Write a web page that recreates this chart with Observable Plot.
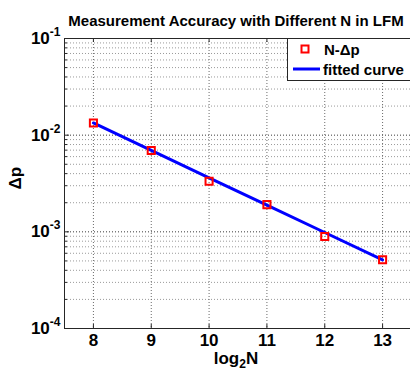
<!DOCTYPE html>
<html><head><meta charset="utf-8">
<script src="https://cdn.jsdelivr.net/npm/d3@7"></script>
<script src="https://cdn.jsdelivr.net/npm/@observablehq/plot@0.6"></script>
<style>
html,body{margin:0;padding:0;background:#fff;}
body{width:410px;height:373px;overflow:hidden;position:relative;font-family:"Liberation Sans",Arial,Helvetica,sans-serif;}
#chart{position:absolute;left:0;top:0;width:412px;}
#chart svg{max-width:none !important;}
#legend{position:absolute;left:287px;top:38px;}
</style>
</head><body>
<div id="chart"></div>
<div id="legend"></div>
<script>
// ---- data ----
const log2N   = [8, 9, 10, 11, 12, 13];
const deltaP  = [0.01337, 0.00695, 0.00334, 0.00191, 0.000895, 0.000514];
const fittedP = [0.01337, 0.00697, 0.00362, 0.00189, 0.000984, 0.000512];
const xTicks  = [8, 9, 10, 11, 12, 13];
const yDecades = [1e-4, 1e-3, 1e-2, 1e-1];
const yExponents = ["-4", "-3", "-2", "-1"];
const minorMultipliers = [2, 3, 4, 5, 6, 7, 8, 9];
const titleText = "Measurement Accuracy with Different N in LFM";
const seriesNames = ["N-\u0394p", "fitted curve"];

const points = log2N.map((n, i) => ({n, p: deltaP[i], f: fittedP[i]}));
const minorVals = yDecades.slice(0, -1).flatMap(d => minorMultipliers.map(m => d * m));
const yTickData = yDecades.map((d, i) => ({d, e: yExponents[i]}));

const axisColor = "#262626";
const frameW = 347, frameH = 290;

const chart = Plot.plot({
  width: 412, height: 373,
  marginLeft: 64, marginRight: 1, marginTop: 38, marginBottom: 45,
  style: {fontFamily: "'Liberation Sans', Arial, Helvetica, sans-serif", background: "#fff", overflow: "visible", maxWidth: "none"},
  x: {domain: [7.5, 13.5], axis: null},
  y: {type: "log", domain: [1e-4, 1e-1], axis: null},
  marks: [
    // grid
    Plot.ruleY(minorVals, {stroke: "#9a9a9a", strokeDasharray: "1,2", strokeWidth: 1}),
    Plot.ruleY(yDecades.slice(1, -1), {stroke: "#3a3a3a", strokeDasharray: "1,2", strokeWidth: 1}),
    Plot.ruleX(xTicks, {stroke: "#6a6a6a", strokeDasharray: "1,2", strokeWidth: 1}),
    // inner ticks
    Plot.ruleX(xTicks, {stroke: axisColor, insetTop: frameH - 4}),
    Plot.ruleX(xTicks, {stroke: axisColor, insetBottom: frameH - 4}),
    Plot.ruleY(yDecades, {stroke: axisColor, insetRight: frameW - 5}),
    Plot.ruleY(minorVals, {stroke: axisColor, insetRight: frameW - 3}),
    Plot.frame({stroke: axisColor, strokeWidth: 1}),
    // data
    Plot.line(points, {x: "n", y: "f", stroke: "#0000ff", strokeWidth: 3}),
    Plot.dot(points, {x: "n", y: "p", symbol: "square", r: 4, stroke: "#ff0000", strokeWidth: 2, fill: "none"}),
    // tick labels
    Plot.text(xTicks, {x: d => d, frameAnchor: "bottom", lineAnchor: "top", dy: 5, text: d => String(d),
      fontSize: 17, fontWeight: "bold", fill: "#000"}),
    Plot.text(yTickData, {y: "d", frameAnchor: "left", textAnchor: "end", dx: -4, text: () => "10",
      fontSize: 17, fontWeight: "bold", fill: "#000", className: "ytl"}),
    // title and axis labels
    Plot.text([titleText], {frameAnchor: "top", lineAnchor: "bottom", dy: -13, dx: -2, text: d => d,
      fontSize: 15, fontWeight: "bold", fill: "#000"}),
    Plot.text(["log2N"], {frameAnchor: "bottom", lineAnchor: "bottom", dy: 35, dx: -2, text: d => d,
      fontSize: 17, fontWeight: "bold", fill: "#000", className: "xlab"}),
    Plot.text(["\u0394p"], {frameAnchor: "left", dx: -49, dy: 6, rotate: -90, text: d => d,
      fontSize: 17, fontWeight: "bold", fill: "#000"})
  ]
});
document.getElementById("chart").appendChild(chart);

// superscripts on y tick labels
d3.select(chart).selectAll(".ytl text").each(function(_, i) {
  const t = d3.select(this);
  t.text(null);
  t.append("tspan").text("10");
  t.append("tspan").attr("dy", -8).attr("font-size", 12).text(yTickData[i].e);
});
// subscript on x label
d3.select(chart).selectAll(".xlab text").each(function() {
  const t = d3.select(this);
  t.text(null);
  t.append("tspan").text("log");
  t.append("tspan").attr("dy", 4).attr("font-size", 12).text("2");
  t.append("tspan").attr("dy", -4).text("N");
});

// legend
const lg = d3.select("#legend").append("svg").attr("width", 130).attr("height", 44)
  .style("font-family", "'Liberation Sans', Arial, Helvetica, sans-serif");
lg.append("rect").attr("x", 0.5).attr("y", 0.5).attr("width", 140).attr("height", 42)
  .attr("fill", "#fff").attr("stroke", axisColor);
lg.append("rect").attr("x", 14.5).attr("y", 7.5).attr("width", 7).attr("height", 7)
  .attr("fill", "none").attr("stroke", "#ff0000").attr("stroke-width", 2);
lg.append("text").attr("x", 37).attr("y", 17).attr("font-size", 15).attr("font-weight", "bold").text(seriesNames[0]);
lg.append("line").attr("x1", 6).attr("x2", 33).attr("y1", 31).attr("y2", 31)
  .attr("stroke", "#0000ff").attr("stroke-width", 3);
lg.append("text").attr("x", 36).attr("y", 37).attr("font-size", 15).attr("font-weight", "bold").text(seriesNames[1]);
</script>
</body></html>
